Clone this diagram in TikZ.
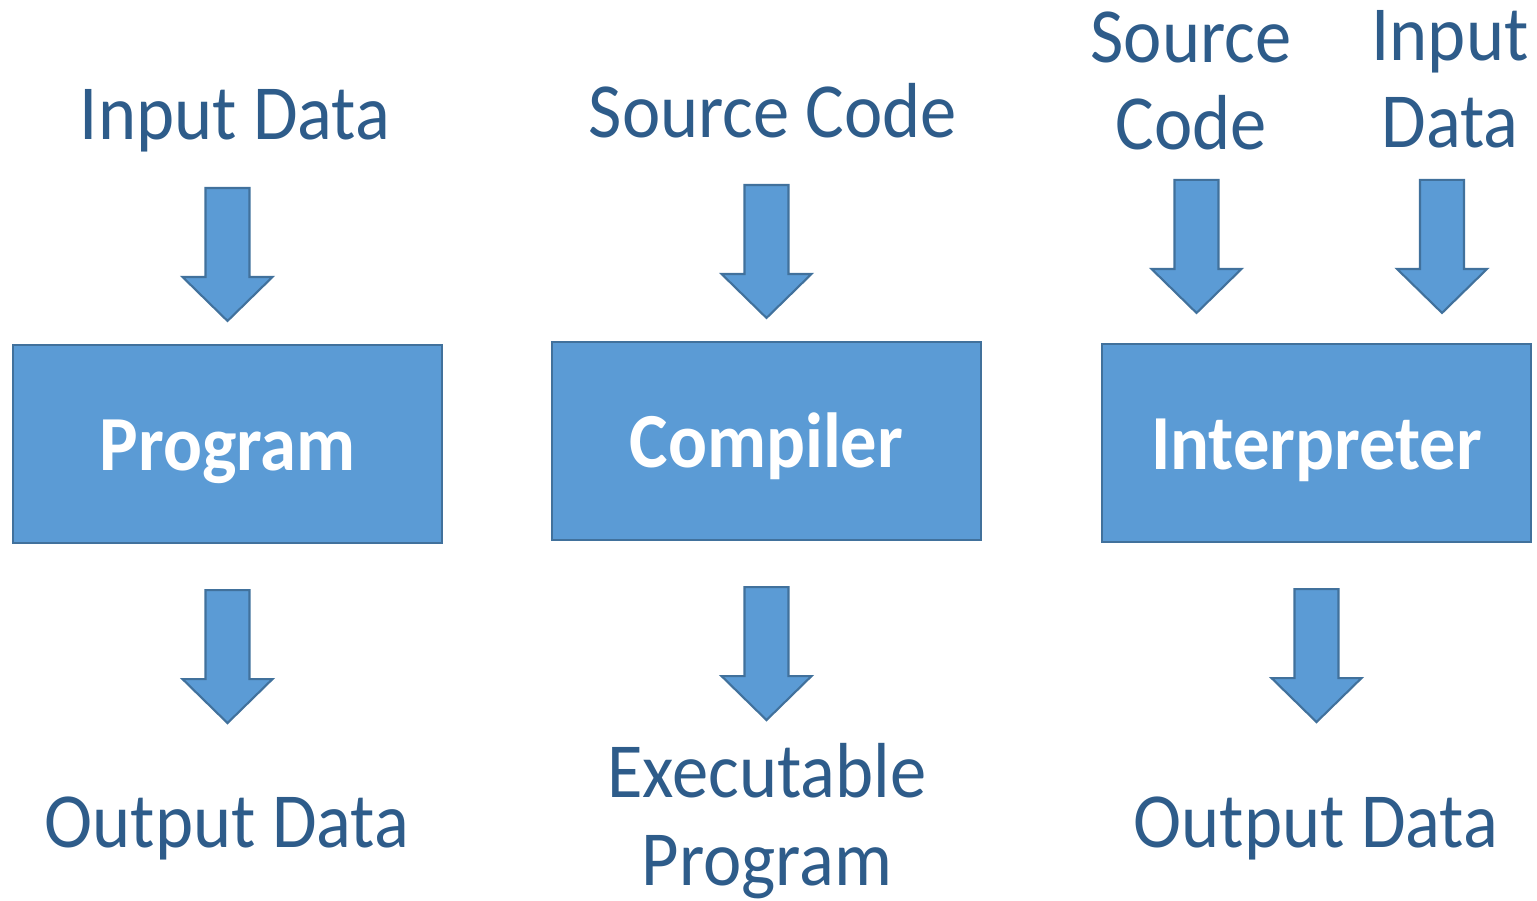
\documentclass[tikz,border=0pt]{standalone}
\usepackage{fontspec}
\setmainfont{Carlito}[FakeStretch=0.93]
\definecolor{boxblue}{HTML}{5B9BD5}
\definecolor{edgeblue}{HTML}{41719C}
\definecolor{labelblue}{HTML}{2E5C8A}
\tikzset{
  stage/.style={draw=edgeblue, fill=boxblue, line width=0.6pt,
    minimum width=4.29cm, minimum height=1.98cm, inner sep=0pt,
    text height=0.72cm, text depth=0.2cm,
    text=white, font=\fontsize{22.2}{25}\selectfont\bfseries},
  datatext/.style={text=labelblue, font=\fontsize{22.2}{25}\selectfont,
    align=center, inner sep=0pt, anchor=base},
  blockarrow/.pic={
    \filldraw[draw=edgeblue, fill=boxblue, line width=0.6pt, line join=miter]
      (-0.22,0) -- (0.22,0) -- (0.22,-0.89) -- (0.45,-0.89) -- (0,-1.33)
      -- (-0.45,-0.89) -- (-0.22,-0.89) -- cycle;
  }
}
\begin{document}
\begin{tikzpicture}
    \useasboundingbox (0,0) rectangle (15.37,9);
    % the three boxes
    \node[stage] (prog) at (2.275,4.56) {Program};
    \node[stage] (comp) at (7.665,4.59) {Compiler};
    \node[stage] (interp) at (13.165,4.57) {Interpreter};

    % inputs and outputs (two-line texts sit on their last baseline)
    \node[datatext] (progin) at (2.35,7.60) {Input Data};
    \node[datatext] (progout) at (2.27,0.53) {Output Data};
    \node[datatext] (compin) at (7.73,7.62) {Source Code};
    \node[datatext] (compout) at (7.67,0.15) {Executable\\Program};
    \node[datatext] (interpsrc) at (11.91,7.50) {Source\\Code};
    \node[datatext] (interpin) at (14.50,7.52) {Input\\Data};
    \node[datatext] (interpout) at (13.16,0.53) {Output Data};

    % block arrows into and out of each box
    \foreach \b in {prog,comp} {
        \pic at ([yshift=1.56cm]\b.north) {blockarrow};
        \pic at ([yshift=-0.46cm]\b.south) {blockarrow};
    }
    \pic at ([shift={(-1.2,1.63)}]interp.north) {blockarrow};
    \pic at ([shift={(1.255,1.63)}]interp.north) {blockarrow};
    \pic at ([yshift=-0.46cm]interp.south) {blockarrow};
\end{tikzpicture}
\end{document}
